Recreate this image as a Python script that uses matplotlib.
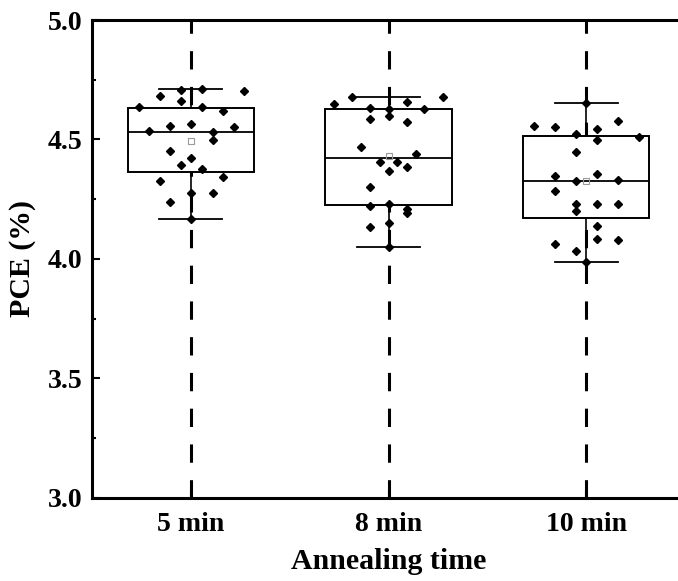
# %% load library
import numpy as np
import matplotlib.pyplot as plt
import matplotlib.ticker as ticker

# %% plotting style
plt.rcParams['font.family'] = ['Liberation Serif', 'DejaVu Serif']
plt.rcParams['font.weight'] = 'bold'
plt.rcParams['axes.labelweight'] = 'bold'
plt.rcParams['mathtext.default'] = 'regular'

# %% data
categories = ["5 min", "8 min", "10 min"]

# 박스 통계값 (q1, median, q3, whisker low/high, mean)
q1 = [4.362, 4.224, 4.170]
med = [4.531, 4.421, 4.327]
q3 = [4.633, 4.626, 4.514]
whis_lo = [4.167, 4.051, 3.987]
whis_hi = [4.710, 4.679, 4.651]
means = [4.493, 4.429, 4.324]

# 각 그룹의 측정값
pce_5 = [4.707, 4.710, 4.703, 4.682, 4.661, 4.634, 4.634, 4.620, 4.556, 4.563,
         4.537, 4.530, 4.553, 4.498, 4.453, 4.421, 4.393, 4.375, 4.344, 4.327,
         4.274, 4.274, 4.239, 4.167]
pce_8 = [4.676, 4.676, 4.648, 4.655, 4.630, 4.626, 4.626, 4.586, 4.600, 4.572,
         4.467, 4.439, 4.404, 4.407, 4.369, 4.386, 4.302, 4.221, 4.230, 4.209,
         4.191, 4.135, 4.151, 4.051]
pce_10 = [4.556, 4.553, 4.578, 4.521, 4.544, 4.498, 4.509, 4.449, 4.348, 4.354,
          4.327, 4.330, 4.286, 4.228, 4.200, 4.229, 4.229, 4.138, 4.083, 4.079,
          4.062, 4.034, 4.651, 3.987]

# 점들의 좌우 흩뿌림 (jitter, 카테고리 단위)
jit_5 = [-0.05, 0.054, 0.269, -0.157, -0.05, -0.261, 0.054, 0.163, -0.106, 0.0,
         -0.211, 0.110, 0.216, 0.110, -0.106, 0.0, -0.05, 0.054, 0.163, -0.157,
         0.0, 0.110, -0.106, 0.0]
jit_8 = [-0.185, 0.275, -0.274, 0.093, -0.092, 0.0, 0.182, -0.092, 0.0, 0.093,
         -0.138, 0.138, -0.045, 0.045, 0.0, 0.093, -0.092, -0.092, 0.0, 0.093,
         0.093, -0.092, 0.0, 0.0]
jit_10 = [-0.266, -0.157, 0.160, -0.051, 0.054, 0.054, 0.268, -0.051, -0.157, 0.054,
          -0.051, 0.160, -0.157, -0.051, -0.051, 0.054, 0.160, 0.054, 0.054, 0.160,
          -0.157, -0.051, 0.0, 0.0]

groups = [pce_5, pce_8, pce_10]
jitters = [jit_5, jit_8, jit_10]

# %% Plotting
FIG_W, FIG_H, DPI = 6.78, 5.81, 100
BOX_WIDTH = 0.64

fig = plt.figure(figsize=(FIG_W, FIG_H), dpi=DPI)
ax = fig.add_axes([92 / 678, (581 - 497.7) / 581, (685 - 92) / 678, (497.7 - 20) / 581])

positions = np.arange(1, len(categories) + 1)

# 카테고리마다 세로 점선
for p in positions:
    ax.axvline(p, color='black', lw=2.2, linestyle=(0, (6, 5.7)), zorder=1)

stats = []
for i in range(len(categories)):
    stats.append(dict(q1=q1[i], med=med[i], q3=q3[i], whislo=whis_lo[i],
                      whishi=whis_hi[i], mean=means[i], fliers=[]))

ax.bxp(stats, positions=positions, widths=BOX_WIDTH, showmeans=True,
       patch_artist=True, manage_ticks=False,
       boxprops=dict(facecolor='white', edgecolor='black', linewidth=1.4),
       medianprops=dict(color='black', linewidth=1.3),
       whiskerprops=dict(color='black', linewidth=1.2),
       capprops=dict(color='black', linewidth=1.3),
       capwidths=BOX_WIDTH / 2,
       meanprops=dict(marker='s', markerfacecolor='none', markeredgecolor='0.6',
                      markersize=4, markeredgewidth=0.8),
       zorder=2)

# 개별 측정값 (검은 마름모)
for p, vals, jit in zip(positions, groups, jitters):
    ax.plot(p + np.array(jit), vals, linestyle='none', marker='D',
            color='black', markersize=4.4, zorder=4)

ax.set_xlim(0.5, 3.5)
ax.set_ylim(3.0, 5.0)
ax.set_xticks(positions)
ax.set_xticklabels(categories)
ax.yaxis.set_major_locator(ticker.MultipleLocator(0.5))
ax.yaxis.set_major_formatter(ticker.FormatStrFormatter('%.1f'))
ax.yaxis.set_minor_locator(ticker.AutoMinorLocator(2))

ax.tick_params(axis='both', which='major', direction='in', length=6, width=1.5,
               labelsize=20)
ax.tick_params(axis='x', which='major', pad=10)
ax.tick_params(axis='y', which='major', pad=7)
ax.tick_params(axis='y', which='minor', direction='in', length=3, width=1.5)
ax.tick_params(axis='x', which='minor', bottom=False)

for spine in ax.spines.values():
    spine.set_linewidth(2.2)
    spine.set_zorder(5)

ax.set_xlabel("Annealing time", fontsize=21.5, labelpad=8)
ax.set_ylabel("PCE (%)", fontsize=21.5, labelpad=8)

fig.savefig("out.png", dpi=DPI)
